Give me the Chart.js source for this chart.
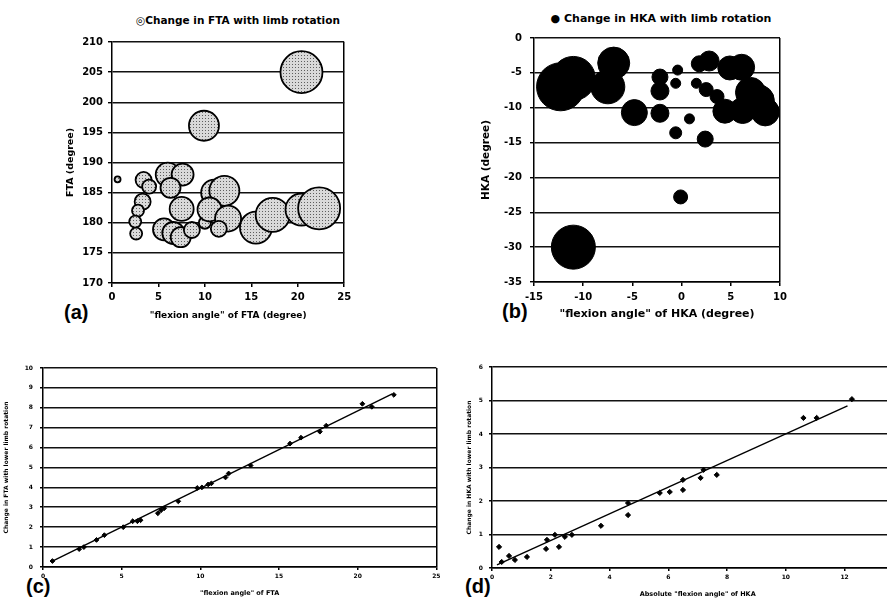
<!DOCTYPE html>
<html lang="en">
<head>
<meta charset="UTF-8">
<title>Change in FTA / HKA with limb rotation</title>
<script src="https://cdn.jsdelivr.net/npm/chart.js"></script>
<style>
  html, body { margin: 0; padding: 0; background: #fff; }
  body { width: 887px; height: 598px; position: relative; overflow: hidden; font-family: "DejaVu Sans", sans-serif; }
  canvas { position: absolute; }
  .ttl { position: absolute; font-weight: bold; white-space: nowrap; transform: translateX(-50%); line-height: 1; }
  .tag { position: absolute; font-family: "Liberation Sans", Arial, sans-serif; font-weight: bold; font-size: 20px; line-height: 1; }
</style>
</head>
<body>
<div class="ttl" style="left:238px; top:15px; font-size:10.5px;">◎Change in FTA with limb rotation</div>
<div class="ttl" style="left:661px; top:13px; font-size:11px;">● Change in HKA with limb rotation</div>
<div class="tag" style="left:64px; top:302px;">(a)</div>
<div class="tag" style="left:502px; top:301px;">(b)</div>
<div class="tag" style="left:26px; top:576px;">(c)</div>
<div class="tag" style="left:465px; top:576px;">(d)</div>

<canvas id="chartA" width="307" height="330" style="left:60px; top:0px;"></canvas>
<canvas id="chartB" width="335" height="330" style="left:470px; top:0px;"></canvas>
<canvas id="chartC" width="443" height="263" style="left:0px; top:335px;"></canvas>
<canvas id="chartD" width="450" height="263" style="left:460px; top:335px;"></canvas>

<script>
// (a) FTA vs "flexion angle" of FTA, r = bubble radius
const ftaX = [0.6, 3.4, 4.0, 3.3, 2.8, 2.5, 2.6, 6.0, 7.6, 6.3, 7.5, 5.6, 6.6, 7.4, 8.6, 10.0, 11.0, 12.1, 10.5, 12.5, 11.5, 15.5, 17.3, 20.4, 22.3, 9.9, 20.4];
const ftaY = [187.2, 187.1, 186.0, 183.5, 182.0, 180.2, 178.2, 188.0, 188.0, 185.8, 182.3, 178.9, 178.3, 177.6, 178.8, 180.0, 185.0, 185.3, 182.2, 180.7, 179.0, 179.2, 181.3, 182.2, 182.4, 196.1, 205.0];
const ftaR = [3, 8, 7, 8, 6, 6, 6, 12, 11, 10, 12, 11, 11, 10, 8, 6, 13, 15, 12, 13, 8, 16, 17, 16, 21, 15, 21];

// (b) HKA vs "flexion angle" of HKA
const hkaX = [-12.3, -11.0, -6.9, -7.5, -4.8, -2.2, -2.2, -2.2, -0.4, -0.6, -0.6, 0.8, -0.1, 2.4, -11.0, 1.8, 2.8, 1.5, 2.5, 3.6, 4.9, 6.1, 4.4, 6.2, 7.0, 7.8, 8.5];
const hkaY = [-7.0, -5.8, -3.6, -7.0, -10.7, -5.6, -7.6, -10.8, -4.6, -6.5, -13.6, -11.6, -22.8, -14.5, -30.0, -3.7, -3.3, -6.5, -7.4, -8.4, -4.3, -4.2, -10.5, -10.4, -7.8, -9.0, -10.6];
const hkaR = [24, 22, 16, 17, 13, 8, 9, 9, 5, 5, 6, 5, 7, 8, 22, 8, 10, 5, 7, 7, 12, 13, 12, 13, 15, 16, 14];

// (c) change in FTA with lower limb rotation
const cX = [0.6, 2.3, 2.6, 3.4, 3.9, 5.1, 5.7, 6.0, 6.2, 7.3, 7.5, 7.7, 8.6, 9.8, 10.1, 10.5, 10.7, 11.6, 11.8, 13.2, 15.7, 16.4, 17.6, 18.0, 20.3, 20.9, 22.3];
const cY = [0.3, 0.9, 1.0, 1.36, 1.6, 2.0, 2.3, 2.3, 2.35, 2.7, 2.85, 2.95, 3.3, 3.97, 4.0, 4.15, 4.2, 4.5, 4.7, 5.1, 6.2, 6.5, 6.8, 7.1, 8.2, 8.05, 8.65];
const cFitX = [0.6, 22.2];
const cFitY = [0.3, 8.7];

// (d) change in HKA with lower limb rotation
const dX = [0.24, 0.33, 0.58, 0.78, 1.19, 1.84, 1.87, 2.14, 2.28, 2.48, 2.72, 3.71, 4.63, 4.63, 5.71, 6.05, 6.5, 6.5, 7.1, 7.2, 7.65, 10.6, 11.05, 12.25];
const dY = [0.63, 0.18, 0.36, 0.24, 0.33, 0.57, 0.84, 0.99, 0.63, 0.93, 0.99, 1.26, 1.94, 1.58, 2.24, 2.27, 2.63, 2.33, 2.69, 2.93, 2.78, 4.48, 4.48, 5.04];
const dFitX = [0.17, 12.1];
const dFitY = [0.09, 4.84];

// axis ranges: [min, max, step]
const aXRange = [0, 25, 5], aYRange = [170, 210, 5];
const bXRange = [-15, 10, 5], bYRange = [-35, 0, 5];
const cXRange = [0, 25, 5], cYRange = [0, 10, 1];
const dXRange = [0, 14, 2], dYRange = [0, 6, 1];

Chart.defaults.font.family = '"DejaVu Sans", sans-serif';
Chart.defaults.font.weight = 'bold';
Chart.defaults.color = '#000';
Chart.defaults.animation = false;
Chart.defaults.events = [];
Chart.defaults.plugins.legend.display = false;
Chart.defaults.plugins.tooltip.enabled = false;

function pts(xs, ys, rs) {
    return xs.map((x, i) => rs ? { x: x, y: ys[i], r: rs[i] } : { x: x, y: ys[i] });
}

function axes(o) {
    return {
        x: {
            type: 'linear', min: o.x[0], max: o.x[1],
            afterFit: s => { s.height = o.xh; },
            ticks: { stepSize: o.x[2], font: { size: o.tick }, padding: o.xpad, maxRotation: 0, autoSkip: false },
            grid: {
                color: c => (c.tick && c.tick.value === o.x[1]) ? '#000' : 'rgba(0,0,0,0)',
                lineWidth: 1.5, tickColor: '#000', tickLength: o.tl
            },
            border: { color: '#000', width: 1.5 },
            title: { display: true, text: o.xt, font: { size: o.xts }, padding: { top: 0, bottom: o.xtb } }
        },
        y: {
            type: 'linear', min: o.y[0], max: o.y[1],
            afterFit: s => { s.width = o.yw; },
            ticks: { stepSize: o.y[2], font: { size: o.tick }, padding: o.ypad },
            grid: { color: '#111', lineWidth: o.gw, tickColor: '#000', tickLength: o.tl },
            border: { color: '#000', width: 1.5 },
            title: { display: true, text: o.yt, font: { size: o.yts }, padding: { top: o.ytp, bottom: 0 } }
        }
    };
}

// light stipple for the FTA bubbles
const dot = document.createElement('canvas');
dot.width = 3; dot.height = 3;
const dctx = dot.getContext('2d');
dctx.fillStyle = '#d9d9d9'; dctx.fillRect(0, 0, 3, 3);
dctx.fillStyle = '#5e5e5e'; dctx.fillRect(1, 1, 1, 1);
const stipple = dctx.createPattern(dot, 'repeat');

new Chart(document.getElementById('chartA'), {
    type: 'bubble',
    data: { datasets: [{ data: pts(ftaX, ftaY, ftaR), backgroundColor: stipple, borderColor: '#000', borderWidth: 1.8 }] },
    options: {
        responsive: false,
        layout: { padding: { left: 0, top: 42, right: 6, bottom: 0 } },
        scales: axes({ x: aXRange, y: aYRange, xh: 47, yw: 52, tick: 10, tl: 4, xpad: 4, ypad: 5, gw: 1.4,
            xt: '"flexion angle" of FTA (degree)', xts: 9, xtb: 9, yt: 'FTA (degree)', yts: 9.5, ytp: 5 })
    }
});

new Chart(document.getElementById('chartB'), {
    type: 'bubble',
    data: { datasets: [{ data: pts(hkaX, hkaY, hkaR), backgroundColor: '#000', borderColor: '#000', borderWidth: 1 }] },
    options: {
        responsive: false,
        layout: { padding: { left: 0, top: 38, right: 6, bottom: 0 } },
        scales: axes({ x: bXRange, y: bYRange, xh: 48, yw: 64, tick: 10, tl: 4, xpad: 5, ypad: 8, gw: 1.4,
            xt: '"flexion angle" of HKA (degree)', xts: 11, xtb: 9, yt: 'HKA (degree)', yts: 10.5, ytp: 10 })
    }
});

new Chart(document.getElementById('chartC'), {
    type: 'scatter',
    data: {
        datasets: [
            { data: pts(cX, cY), pointStyle: 'rectRot', pointRadius: 2.4, backgroundColor: '#000', borderColor: '#000' },
            { type: 'line', data: pts(cFitX, cFitY), borderColor: '#000', borderWidth: 1.4, pointRadius: 0, showLine: true }
        ]
    },
    options: {
        responsive: false,
        layout: { padding: { left: 0, top: 33, right: 6, bottom: 0 } },
        scales: axes({ x: cXRange, y: cYRange, xh: 31, yw: 43, tick: 6, tl: 3, xpad: 2.5, ypad: 7, gw: 1.6,
            xt: '"flexion angle" of FTA', xts: 6.5, xtb: 1, yt: 'Change in FTA with lower limb rotation', yts: 6, ytp: 3 })
    }
});

new Chart(document.getElementById('chartD'), {
    type: 'scatter',
    data: {
        datasets: [
            { data: pts(dX, dY), pointStyle: 'rectRot', pointRadius: 2.6, backgroundColor: '#000', borderColor: '#000' },
            { type: 'line', data: pts(dFitX, dFitY), borderColor: '#000', borderWidth: 1.4, pointRadius: 0, showLine: true }
        ]
    },
    options: {
        responsive: false,
        layout: { padding: { left: 0, top: 32, right: 6, bottom: 0 } },
        scales: axes({ x: dXRange, y: dYRange, xh: 30, yw: 32, tick: 6, tl: 3, xpad: 2.5, ypad: 6, gw: 1.6,
            xt: 'Absolute "flexion angle" of HKA', xts: 6.5, xtb: 0, yt: 'Change in HKA with lower limb rotation', yts: 6, ytp: 5.6 })
    }
});
</script>
</body>
</html>
